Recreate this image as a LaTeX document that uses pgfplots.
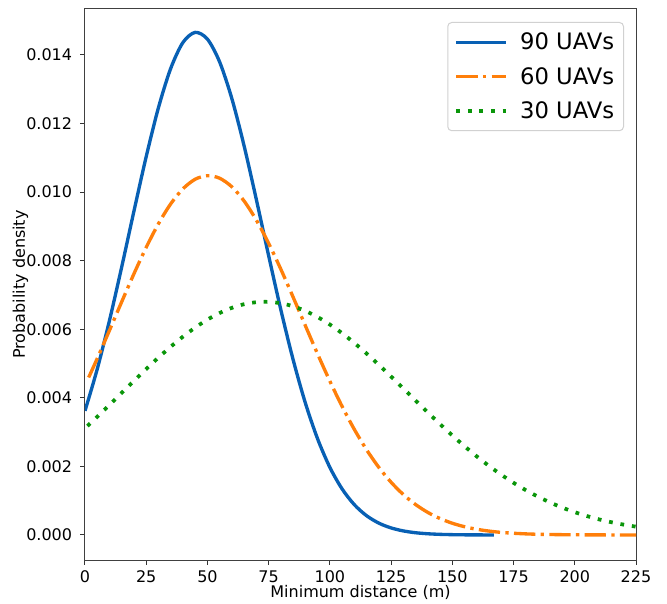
\documentclass[border=0pt]{standalone}
\usepackage{fontspec}
\setmainfont{DejaVu Sans}
\usepackage{pgfplots}
\pgfplotsset{compat=1.18}
\usetikzlibrary{calc}

\definecolor{uavblue}{RGB}{8,96,180}
\definecolor{uavorange}{RGB}{255,127,10}
\definecolor{uavgreen}{RGB}{10,150,10}

\begin{document}
\begin{tikzpicture}
\begin{axis}[
  name=ax,
  scale only axis,
  width=413.25pt, height=413.25pt,
  xmin=0, xmax=225,
  ymin=-0.00073, ymax=0.01534,
  xtick={0,25,50,75,100,125,150,175,200,225},
  ytick={0,0.002,0.004,0.006,0.008,0.010,0.012,0.014},
  scaled y ticks=false,
  tick label style={font=\fontsize{12}{14}\selectfont, /pgf/number format/assume math mode=true},
  xticklabel style={anchor=base, inner sep=0pt, yshift=-13.5pt},
  yticklabel style={anchor=east, inner sep=0pt, xshift=-5.8pt,
    /pgf/number format/fixed, /pgf/number format/fixed zerofill,
    /pgf/number format/precision=3},
  label style={font=\fontsize{12}{14}\selectfont},
  xlabel={Minimum distance (m)},
  ylabel={Probability density},
  xlabel style={at={(axis description cs:0.5,-0.0672)}, anchor=base},
  ylabel style={at={(axis description cs:-0.109,0.5)}, anchor=base},
  tick align=outside,
  tick pos=left,
  major tick length=3.7pt,
  every tick/.style={black!80, line width=0.75pt},
  axis line style={black!75, line width=0.75pt},
  legend cell align=left,
  legend image code/.code={\draw[#1] (0pt,0pt) -- (37.5pt,0pt);},
  legend style={
    at={(axis description cs:1,1)}, anchor=north east,
    xshift=-9pt, yshift=-9.75pt,
    draw=black!18, line width=0.75pt, rounded corners=3pt,
    fill=white, fill opacity=0.8, text opacity=1,
    font=\fontsize{17}{20.4}\selectfont,
    inner xsep=5pt, inner ysep=5.8pt,
    row sep=7.6pt,
    /tikz/every odd column/.append style={column sep=7pt},
  },
]

% 90 UAVs
\addplot[uavblue, line width=2.5pt, smooth] coordinates {
  (0,0.003620) (5,0.004839) (10,0.006257) (15,0.007820) (20,0.009449)
  (25,0.011036) (30,0.012464) (35,0.013607) (40,0.014364) (45,0.014658)
  (50,0.014461) (55,0.013792) (60,0.012719) (65,0.011338) (70,0.009773)
  (75,0.008142) (80,0.006559) (85,0.005109) (90,0.003845) (95,0.002800)
  (100,0.001970) (105,0.001341) (110,0.000882) (115,0.000561) (120,0.000345)
  (125,0.000205) (130,0.000118) (135,0.000065) (140,0.000035) (145,0.000018)
  (150,0.000009) (155,0.000004) (160,0.000002) (167,0.000001)
};
\addlegendentry{90 UAVs}

% 60 UAVs
\addplot[uavorange, line width=2.5pt, smooth,
  dash pattern=on 16pt off 4pt on 2.5pt off 4pt] coordinates {
  (1.5,0.004593) (5,0.005147) (10,0.005968) (15,0.006802) (20,0.007619)
  (25,0.008389) (30,0.009078) (35,0.009657) (40,0.010096) (45,0.010375)
  (50,0.010479) (55,0.010404) (60,0.010152) (65,0.009737) (70,0.009179)
  (75,0.008505) (80,0.007746) (85,0.006934) (90,0.006101) (95,0.005276)
  (100,0.004485) (105,0.003747) (110,0.003077) (115,0.002484) (120,0.001970)
  (125,0.001537) (130,0.001178) (135,0.000887) (140,0.000657) (145,0.000478)
  (150,0.000342) (155,0.000240) (160,0.000166) (165,0.000113) (170,0.000075)
  (175,0.000050) (180,0.000032) (185,0.000020) (190,0.000013) (200,0.000005)
  (210,0.000002) (225,0.000000)
};
\addlegendentry{60 UAVs}

% 30 UAVs
\addplot[uavgreen, line width=2.8pt, smooth,
  dash pattern=on 2.8pt off 5.9pt] coordinates {
  (1,0.003178) (5,0.003449) (10,0.003795) (15,0.004145) (20,0.004496)
  (25,0.004840) (30,0.005174) (35,0.005490) (40,0.005784) (45,0.006049)
  (50,0.006281) (55,0.006474) (60,0.006625) (65,0.006731) (70,0.006789)
  (75,0.006797) (80,0.006757) (85,0.006669) (90,0.006533) (95,0.006355)
  (100,0.006136) (105,0.005883) (110,0.005599) (115,0.005290) (120,0.004962)
  (125,0.004621) (130,0.004272) (135,0.003921) (140,0.003573) (145,0.003232)
  (150,0.002902) (155,0.002588) (160,0.002290) (165,0.002012) (170,0.001756)
  (175,0.001521) (180,0.001307) (185,0.001116) (190,0.000946) (195,0.000795)
  (200,0.000664) (205,0.000551) (210,0.000453) (215,0.000371) (220,0.000301)
  (225,0.000242)
};
\addlegendentry{30 UAVs}

\end{axis}
\pgfresetboundingbox
\path[use as bounding box] ($(ax.south west)+(-63.75pt,-32.25pt)$)
  rectangle ($(ax.north east)+(23.25pt,6.75pt)$);
\end{tikzpicture}
\end{document}
